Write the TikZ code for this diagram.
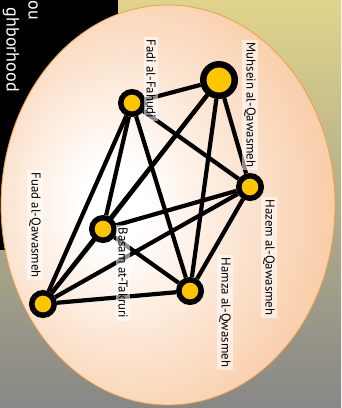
\documentclass[tikz,border=0pt]{standalone}
\usepackage{fontspec}
\setsansfont{PT Sans}
\usepackage{tikz}
\usetikzlibrary{backgrounds}

\definecolor{gold}{RGB}{255,198,0}
\definecolor{peach}{RGB}{246,178,122}
\definecolor{khaki}{RGB}{224,212,140}
\definecolor{stone}{RGB}{135,135,135}
\definecolor{rim}{RGB}{236,160,70}
\pgfdeclareradialshading{egg}{\pgfpoint{-9bp}{0bp}}{color(0bp)=(white); color(5bp)=(white); color(20bp)=(peach!40); color(36bp)=(peach!80); color(50bp)=(peach); color(70bp)=(peach)}

\begin{document}
\begin{tikzpicture}[
  x=1pt, y=-1pt,
  person/.style={circle, draw=black, line width=5.5pt, fill=gold, minimum size=22.5pt, inner sep=0pt},
  bigperson/.style={person, line width=6.5pt, minimum size=31.5pt},
  tie/.style={draw, line width=4.2pt},
  namebox/.style={rotate=-90, anchor=west, fill=white, fill opacity=0.55, text opacity=1,
    inner sep=2.5pt, font=\sffamily\fontsize{12.8}{15}\selectfont},
  bandtext/.style={rotate=-90, anchor=east, text=white, inner sep=0pt, font=\sffamily\fontsize{18}{20}\selectfont},
]
  \useasboundingbox (0,0) rectangle (341,408);

  % backdrop and egg
  \begin{scope}[on background layer]
    \shade[top color=khaki, bottom color=stone] (0,0) rectangle (341,408);
    \fill[black] (0,0) rectangle (118,250);
    \shade[shading=egg] (168,205) ellipse [x radius=167pt, y radius=200pt];
    \draw[rim, line width=0.8pt] (168,205) ellipse [x radius=167pt, y radius=200pt];
  \end{scope}

  \node[bandtext] (title1) at (33,20) {ou};
  \node[bandtext] (title2) at (11,92) {ghborhood};

  % people
  \node[bigperson] (muhsein) at (219,80)  {};
  \node[person]    (fadi)    at (132,103) {};
  \node[person]    (hazem)   at (250,187) {};
  \node[person]    (basam)   at (103,229) {};
  \node[person]    (fuad)    at (43,304)  {};
  \node[person]    (hamza)   at (190,291) {};

  % ties
  \begin{scope}[on background layer]
    \foreach \a/\b in {fadi/muhsein, fadi/hazem, fadi/basam, fadi/fuad, fadi/hamza,
                       muhsein/hazem, muhsein/basam, muhsein/fuad, muhsein/hamza,
                       hazem/basam, hazem/fuad, hazem/hamza,
                       basam/fuad, basam/hamza, fuad/hamza}
      \draw[tie] (\a) -- (\b);
  \end{scope}

  % names
  \node[namebox] (fadi-name)    at (151,37)  {Fadi al-Fahudi};
  \node[namebox] (muhsein-name) at (250,40)  {Muhsein al-Qawasmeh};
  \node[namebox] (hazem-name)   at (269,197) {Hazem al-Qawasmeh};
  \node[namebox] (hamza-name)   at (225,255) {Hamza al-Qwasmeh};
  \node[namebox] (basam-name)   at (123,225) {Basam at-Takruri};
  \node[namebox] (fuad-name)    at (35,170)  {Fuad al-Qawasmeh};
\end{tikzpicture}
\end{document}
